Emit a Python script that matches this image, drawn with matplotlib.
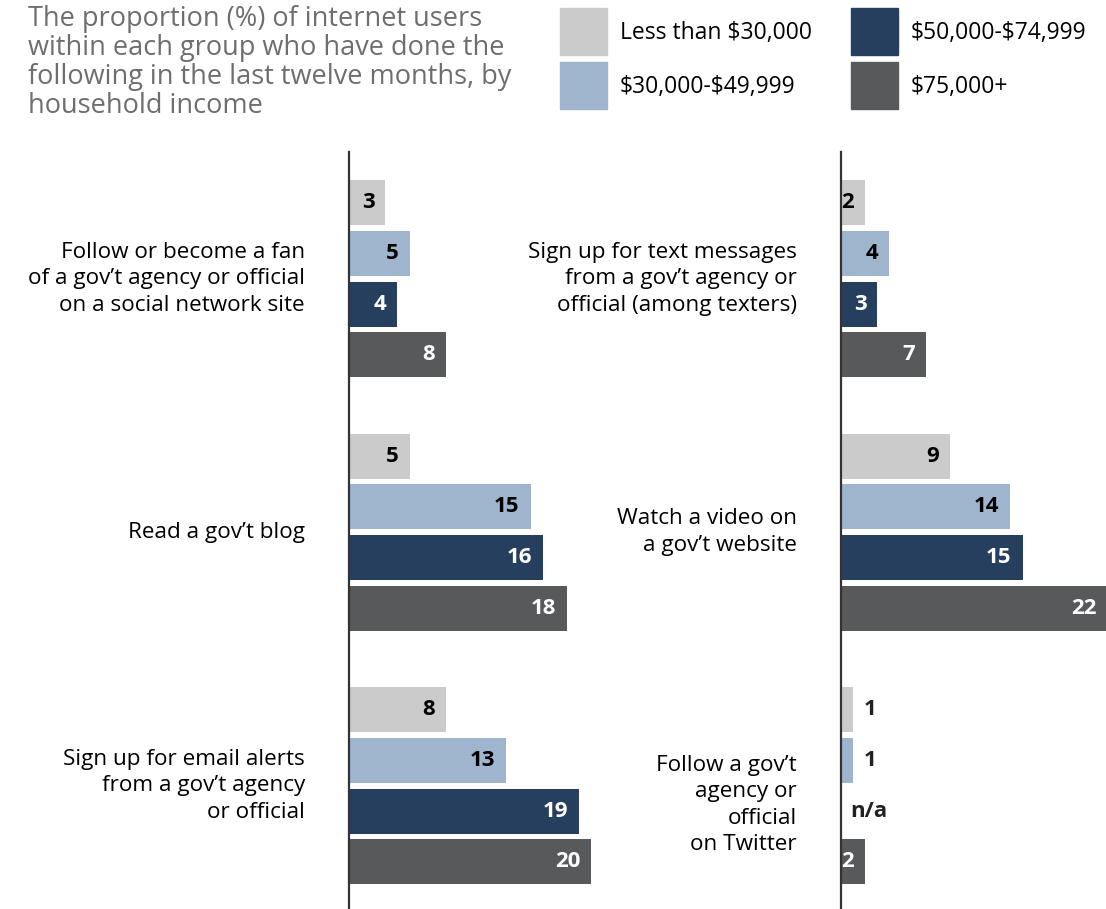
import matplotlib
matplotlib.use("Agg")
import matplotlib.pyplot as plt

plt.rcParams['font.family'] = ['Open Sans', 'DejaVu Sans']
plt.rcParams['text.parse_math'] = False

# data
series = ["Less than $30,000", "$30,000-$49,999", "$50,000-$74,999", "$75,000+"]
colors = ["#cbcbcb", "#9fb5cd", "#263f5e", "#58595b"]
text_colors = ["black", "black", "white", "white"]

left_labels = ["Follow or become a fan\nof a gov\u2019t agency or official\non a social network site",
               "Read a gov\u2019t blog",
               "Sign up for email alerts\nfrom a gov\u2019t agency\nor official"]
left_values = [[3, 5, 4, 8],
               [5, 15, 16, 18],
               [8, 13, 19, 20]]

right_labels = ["Sign up for text messages\nfrom a gov\u2019t agency or\nofficial (among texters)",
                "Watch a video on\na gov\u2019t website",
                "Follow a gov\u2019t\nagency or\nofficial\non Twitter"]
right_values = [[2, 4, 3, 7],
                [9, 14, 15, 22],
                [1, 1, None, 2]]

title = ("The proportion (%) of internet users\nwithin each group who have done the\n"
         "following in the last twelve months, by\nhousehold income")

W, H = 1106, 909
fig = plt.figure(figsize=(W / 100, H / 100), dpi=100)
PX = 12.1  # pixels per percentage point


def panel(x0, width_px, labels, values, label_shift=(0, 0, 0)):
    ax = fig.add_axes([x0 / W, 0, width_px / W, 757 / H])
    ax.set_xlim(0, width_px / PX)
    ax.set_ylim(13.93, -1.0)
    for s in ["top", "right", "bottom"]:
        ax.spines[s].set_visible(False)
    ax.spines["left"].set_linewidth(1.6)
    ax.spines["left"].set_color("#333333")
    ax.set_xticks([])
    ax.set_yticks([])
    for g, (lab, vals) in enumerate(zip(labels, values)):
        for i, v in enumerate(vals):
            y = 5 * g + i
            if v is None:
                ax.text(0.75, y, "n/a", ha="left", va="center", fontsize=16,
                        fontweight="bold", color="#222222")
                continue
            ax.barh(y, v, height=0.89, color=colors[i], left=0)
            if v >= 2:
                ax.text(v - 0.9, y, str(v), ha="right", va="center", fontsize=16,
                        fontweight="bold", color=text_colors[i])
            else:
                ax.text(v + 0.85, y, str(v), ha="left", va="center", fontsize=16,
                        fontweight="bold", color="#222222")
        ax.text(-3.64, 5 * g + 1.5 + label_shift[g], lab, ha="right", va="center",
                fontsize=16.2, linespacing=1.35, color="black", clip_on=False)
    return ax


panel(349, 25 * PX, left_labels, left_values)
panel(841, 265, right_labels, right_values, label_shift=(0, 0, 0.38))

fig.text(28 / W, 1 - 5 / H, title, ha="left", va="top", fontsize=19.5,
         color="#6d6e70", linespacing=1.04)

# legend
sq = [(560, 8), (560, 62), (851, 8), (851, 62)]
for (x, y), name, c in zip(sq, series, colors):
    fig.patches.append(plt.Rectangle((x / W, 1 - (y + 47) / H), 47 / W, 47 / H,
                                     transform=fig.transFigure, color=c))
    fig.text((x + 60) / W, 1 - (y + 25) / H, name, ha="left", va="center",
             fontsize=16.5, color="black")

fig.savefig("out.png", dpi=100)
